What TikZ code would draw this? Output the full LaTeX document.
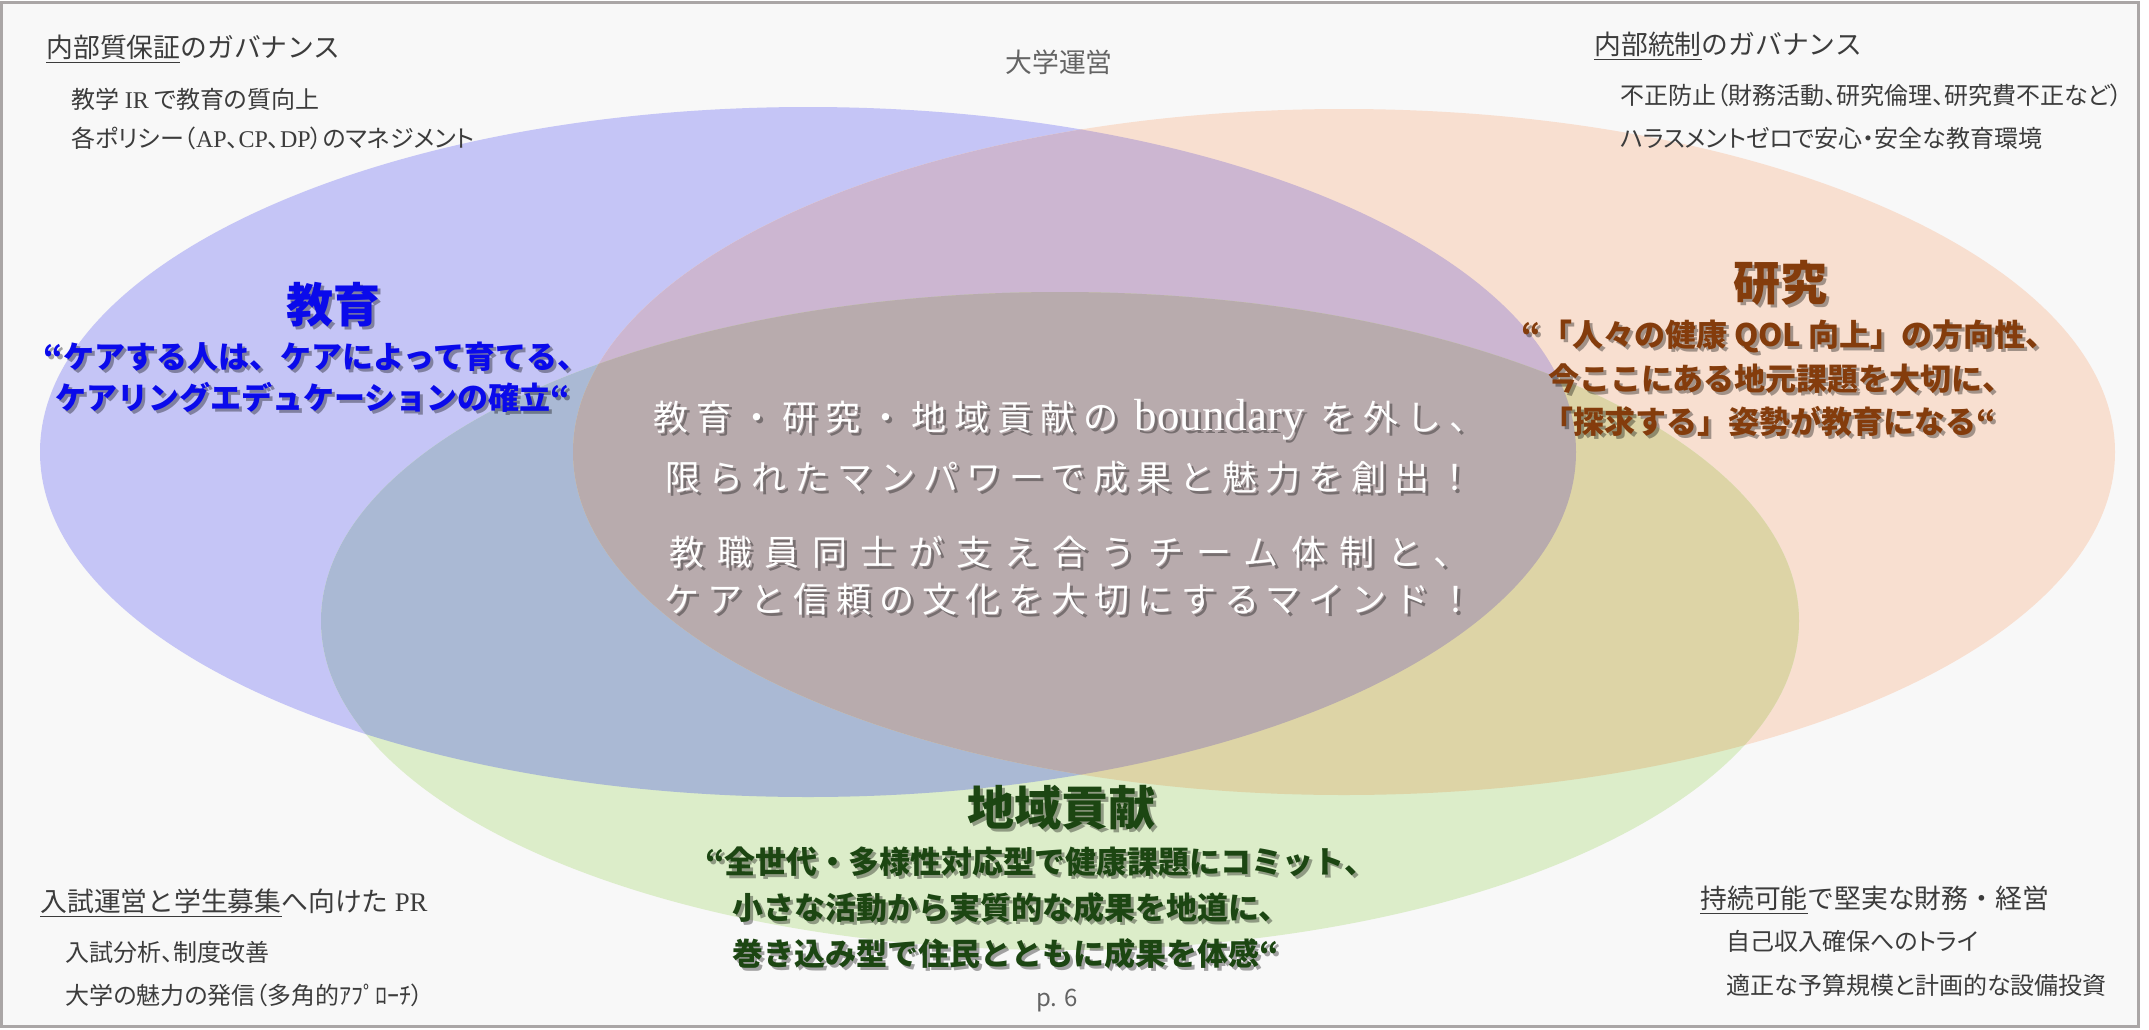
\documentclass[tikz,border=0pt]{standalone}
\usepackage{fontspec}
\setmainfont{Noto Sans CJK JP}
\newfontfamily\pfont{Noto Sans CJK JP}[RawFeature=+palt]
\newfontfamily\latfont{Liberation Serif}
\newcommand\lat[1]{{\latfont #1}}
\definecolor{cB}{RGB}{197,197,246}
\definecolor{cO}{RGB}{248,223,208}
\definecolor{cG}{RGB}{220,237,201}
\definecolor{cBO}{RGB}{204,182,209}
\definecolor{cBG}{RGB}{170,185,212}
\definecolor{cOG}{RGB}{221,212,166}
\definecolor{cBOG}{RGB}{184,171,173}
\definecolor{pagebg}{RGB}{248,248,248}
\definecolor{framec}{RGB}{170,166,166}
\definecolor{txtgray}{RGB}{60,60,60}
\definecolor{lightgray}{RGB}{100,100,100}
\definecolor{eduBlue}{RGB}{10,10,235}
\definecolor{resBrown}{RGB}{132,60,12}
\definecolor{comGreen}{RGB}{28,70,18}
\newcommand\shnode[5]{%
  \node[#1, text=#5, text opacity=.35] (#2s) at ([shift={(3,3)}]#3) {#4};
  \node[#1] (#2) at (#3) {#4};}
\def\eB{(808,452) ellipse [x radius=768, y radius=345]}
\def\eO{(1344,452) ellipse [x radius=771, y radius=343]}
\def\eG{(1060,621) ellipse [x radius=739, y radius=329]}
\begin{document}
\begin{tikzpicture}[x=0.5pt,y=-0.5pt,
  ttl/.style={anchor=west, inner sep=0, text=txtgray, font=\fontsize{13.4}{16}\selectfont},
  itm/.style={anchor=west, inner sep=0, text=txtgray, font=\pfont\fontsize{12}{14}\selectfont},
  hdr/.style={inner sep=0, font=\bfseries\fontsize{23.5}{28}\selectfont},
  quo/.style={inner sep=0, font=\bfseries\fontsize{15.5}{18}\selectfont},
  ctr/.style={inner sep=0, text=white, font=\addfontfeature{LetterSpace=23}\fontsize{17.5}{21}\selectfont},
  ctrw/.style={inner sep=0, text=white, font=\addfontfeature{LetterSpace=37}\fontsize{17.5}{21}\selectfont}]
\useasboundingbox (0,0) rectangle (2149,1029);
\fill[white] (0,0) rectangle (2149,1029);
\fill[pagebg] (1,1) rectangle (2138,1027);
% ellipses
\fill[cB] \eB;
\fill[cO] \eO;
\fill[cG] \eG;
\begin{scope}\clip \eB; \fill[cBO] \eO;\end{scope}
\begin{scope}\clip \eB; \fill[cBG] \eG;\end{scope}
\begin{scope}\clip \eO; \fill[cOG] \eG;\end{scope}
\begin{scope}\clip \eB; \clip \eO; \fill[cBOG] \eG;\end{scope}
% frame
\draw[framec, line width=1.5pt] (1,2) rectangle (2138,1026);
% corner texts
\node[ttl] (t1) at (46,49) {\underline{内部質保証}のガバナンス};
\node[itm] (t1a) at (71,99) {教学 \lat{IR} で教育の質向上};
\node[itm] (t1b) at (71,138) {各ポリシー（\lat{AP}、\lat{CP}、\lat{DP}）のマネジメント};
\node[ttl] (t2) at (1594,46) {\underline{内部統制}のガバナンス};
\node[itm] (t2a) at (1620,95) {不正防止（財務活動、研究倫理、研究費不正など）};
\node[itm] (t2b) at (1620,138) {ハラスメントゼロで安心・安全な教育環境};
\node[ttl] (t3) at (40,903) {\underline{入試運営と学生募集}へ向けた \lat{PR}};
\node[itm] (t3a) at (65,952) {入試分析、制度改善};
\node[itm] (t3b) at (65,995) {大学の魅力の発信（多角的ｱﾌﾟﾛｰﾁ）};
\node[ttl] (t4) at (1700,900) {\underline{持続可能}で堅実な財務・経営};
\node[itm] (t4a) at (1726,941) {自己収入確保へのトライ};
\node[itm] (t4b) at (1726,985) {適正な予算規模と計画的な設備投資};
\node[inner sep=0, text=lightgray, font=\fontsize{13.4}{16}\selectfont] (top) at (1059,62) {大学運営};
\node[inner sep=0, text=lightgray, font=\fontsize{12}{14}\selectfont] (page) at (1057,1001) {p. 6};
% education
\shnode{hdr, text=eduBlue}{edu}{333,305}{教育}{black}
\shnode{quo, text=eduBlue}{eduA}{316,357}{“ケアする人は、ケアによって育てる、}{black}
\shnode{quo, text=eduBlue}{eduB}{313,397}{ケアリングエデュケーションの確立“}{black}
% research
\shnode{hdr, text=resBrown}{res}{1780,283}{研究}{black}
\shnode{quo, text=resBrown}{resA}{1789,336}{“「人々の健康 QOL 向上」の方向性、}{black}
\shnode{quo, text=resBrown}{resB}{1781,379}{今ここにある地元課題を大切に、}{black}
\shnode{quo, text=resBrown}{resC}{1769,421}{「探求する」姿勢が教育になる“}{black}
% community
\shnode{hdr, text=comGreen}{com}{1061,808}{地域貢献}{black}
\shnode{quo, text=comGreen, anchor=west}{comA}{705,862}{“全世代・多様性対応型で健康課題にコミット、}{black}
\shnode{quo, text=comGreen, anchor=west}{comB}{732,908}{小さな活動から実質的な成果を地道に、}{black}
\shnode{quo, text=comGreen, anchor=west}{comC}{732,954}{巻き込み型で住民とともに成果を体感“}{black}
% centre
\shnode{ctr}{c1}{1069,420}{教育・研究・地域貢献の {\fontsize{22.5}{24}\selectfont\lat{boundary}} を外し、}{black}
\shnode{ctr}{c2}{1069,477}{限られたマンパワーで成果と魅力を創出！}{black}
\shnode{ctrw}{c3}{1069,552}{教職員同士が支え合うチーム体制と、}{black}
\shnode{ctr}{c4}{1069,599}{ケアと信頼の文化を大切にするマインド！}{black}
\end{tikzpicture}
\end{document}
